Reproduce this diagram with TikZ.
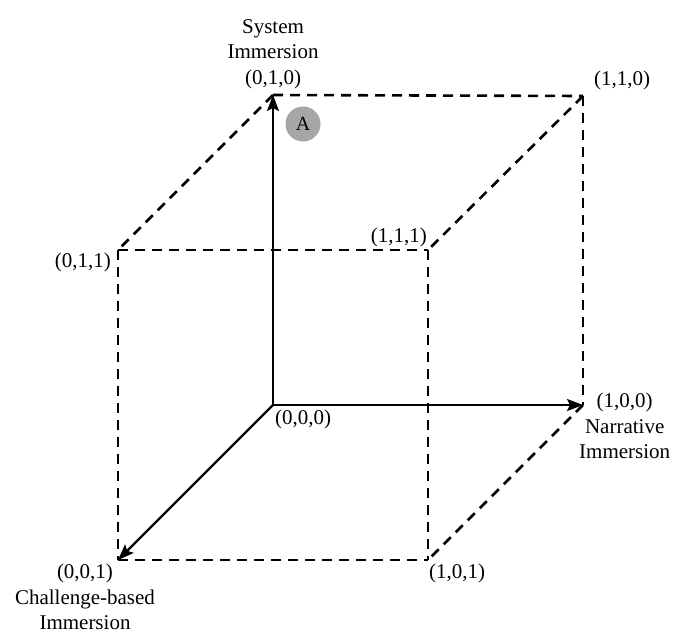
\documentclass[tikz,border=0pt]{standalone}
\usepackage{fontspec}
\setmainfont{Liberation Serif}
\usetikzlibrary{arrows.meta,positioning}
\definecolor{MarkGrey}{HTML}{A6A6A6}

\begin{document}
\begin{tikzpicture}[x=1pt,y=-1pt,
  axis/.style={-{Stealth[length=16pt,width=12pt,inset=3pt]},line width=2.2pt},
  edge/.style={line width=2.6pt,dash pattern=on 10pt off 7pt},
  lbl/.style={font=\fontsize{21}{25.5}\selectfont,align=center,inner sep=1pt}]
  \useasboundingbox (0,0) rectangle (673,635);
  % cube corners
  \coordinate (p000) at (273,405);
  \coordinate (p010) at (273,95);
  \coordinate (p100) at (583,405);
  \coordinate (p110) at (583,96);
  \coordinate (p001) at (118,560);
  \coordinate (p011) at (118,250);
  \coordinate (p111) at (428,250);
  \coordinate (p101) at (428,560);
  \foreach \a/\b in {p010/p110,p110/p100,p010/p011,p110/p111,p100/p101,
                     p011/p111,p011/p001,p111/p101,p001/p101}{
    \draw[edge] (\a) -- (\b);
  }
  \draw[axis] (p000) -- (p010);
  \draw[axis] (p000) -- (p100);
  \draw[axis] (p000) -- (p001);
  % labels
  \node[lbl,above=5pt of p010] (sys){System\\Immersion\\(0,1,0)};
  \node[lbl,above right=5pt and 10pt of p110] (l110){(1,1,0)};
  \node[lbl,left=6pt of p011,yshift=-12pt] (l011){(0,1,1)};
  \node[lbl,above left=2pt and 0pt of p111] (l111){(1,1,1)};
  \node[lbl,below right=4pt and 1pt of p000] (l000){(0,0,0)};
  \node[lbl,below right=-13pt and -5pt of p100] (nar){(1,0,0)\\Narrative\\Immersion};
  \node[lbl,below=3pt of p001,xshift=-33pt] (chal){(0,0,1)\\Challenge-based\\Immersion};
  \node[lbl,below right=3pt and 0pt of p101] (l101){(1,0,1)};
  \node[circle,fill=MarkGrey,minimum size=35pt,inner sep=0pt,
        font=\fontsize{20}{20}\selectfont] (pa) at (303,124){A};
\end{tikzpicture}
\end{document}
